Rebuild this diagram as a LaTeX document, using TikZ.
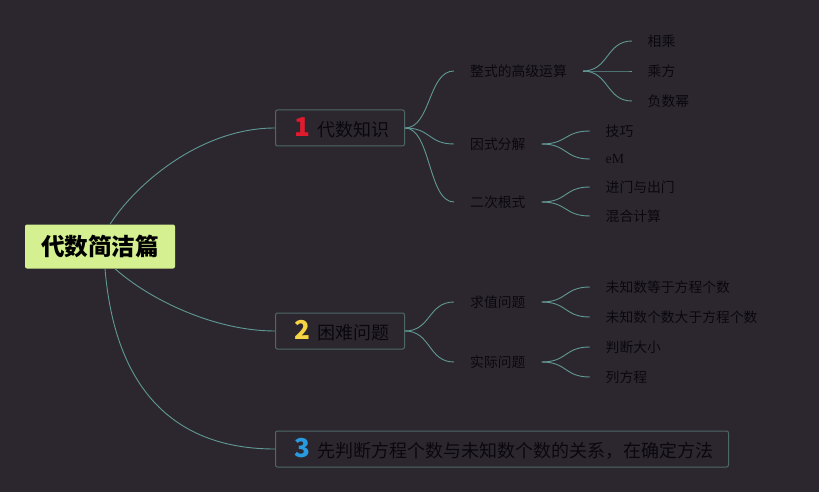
\documentclass[tikz,border=0pt]{standalone}
\usepackage{fontspec}
\setmainfont{Noto Sans CJK SC}
\newfontfamily\serifeM{Liberation Serif}
\definecolor{bgc}{RGB}{44,39,47}
\definecolor{linec}{RGB}{95,153,148}
\definecolor{boxline}{RGB}{78,104,104}
\definecolor{rootfill}{RGB}{212,240,145}
\definecolor{txt}{RGB}{10,8,12}
\definecolor{numred}{RGB}{225,26,46}
\definecolor{numyellow}{RGB}{246,212,66}
\definecolor{numblue}{RGB}{40,155,224}
\tikzset{
  conn/.style={draw=linec, line width=0.9pt},
  rootbox/.style={fill=rootfill, rounded corners=2pt, minimum width=150pt, minimum height=44pt, inner sep=0pt, text=black, font=\fontsize{23.6}{24}\selectfont\bfseries},
  mainbox/.style={draw=boxline, line width=1pt, fill=bgc, rounded corners=2pt, minimum height=36pt, inner xsep=0pt, inner ysep=0pt, align=left, anchor=west, text=txt, font=\fontsize{18}{20}\selectfont},
  sub/.style={anchor=west, inner xsep=16pt, inner ysep=2pt, text=txt, font=\fontsize{13.8}{15}\selectfont},
  leaf/.style={anchor=west, inner xsep=15.5pt, inner ysep=2pt, text=txt, font=\fontsize{13.8}{15}\selectfont},
}
\newcommand{\numtag}[2]{\hspace*{19pt}\makebox[16pt][c]{\textcolor{#1}{\fontsize{26}{26}\selectfont\bfseries #2}}\hspace{7pt}}
\begin{document}
\begin{tikzpicture}[x=1pt,y=-1pt]
\fill[bgc] (0,0) rectangle (819,492);
\useasboundingbox (0,0) rectangle (819,492);

\node[rootbox] (root) at (100,246.5) {代数简洁篇};

\node[mainbox, text width=129pt] (n1) at (275,128) {\numtag{numred}{1}代数知识};
\node[mainbox, text width=129pt] (n2) at (275,331) {\numtag{numyellow}{2}困难问题};
\node[mainbox, text width=453pt] (n3) at (275,449) {\numtag{numblue}{3}先判断方程个数与未知数个数的关系，在确定方法};

\draw[conn] ([xshift=10pt]root.north) .. controls (135,185) and (200,128) .. (n1.west);
\draw[conn] ([xshift=15pt]root.south) .. controls (150,300) and (215,331) .. (n2.west);
\draw[conn] ([xshift=5pt]root.south) .. controls (115,390) and (175,449) .. (n3.west);

% level 2 under n1
\node[sub] (a1) at (454,71) {整式的高级运算};
\node[sub] (a2) at (454,144) {因式分解};
\node[sub] (a3) at (454,202) {二次根式};
\foreach \c in {a1,a2,a3}
  \draw[conn] (n1.east) .. controls +(26,0) and +(-26,0) .. (\c.west);

% level 3
\node[leaf] (a11) at (632,41) {相乘};
\node[leaf] (a12) at (632,71) {乘方};
\node[leaf] (a13) at (632,101) {负数幂};
\foreach \c in {a11,a12,a13}
  \draw[conn] (a1.east) .. controls +(26,0) and +(-26,0) .. (\c.west);

\node[leaf] (a21) at (590,131) {技巧};
\node[leaf] (a22) at (590,159) {\serifeM eM};
\foreach \c in {a21,a22}
  \draw[conn] (a2.east) .. controls +(26,0) and +(-26,0) .. (\c.west);

\node[leaf] (a31) at (590,187) {进门与出门};
\node[leaf] (a32) at (590,216) {混合计算};
\foreach \c in {a31,a32}
  \draw[conn] (a3.east) .. controls +(26,0) and +(-26,0) .. (\c.west);

% level 2 under n2
\node[sub] (b1) at (454,302) {求值问题};
\node[sub] (b2) at (454,362) {实际问题};
\foreach \c in {b1,b2}
  \draw[conn] (n2.east) .. controls +(26,0) and +(-26,0) .. (\c.west);

\node[leaf] (b11) at (590,287) {未知数等于方程个数};
\node[leaf] (b12) at (590,317) {未知数个数大于方程个数};
\foreach \c in {b11,b12}
  \draw[conn] (b1.east) .. controls +(26,0) and +(-26,0) .. (\c.west);

\node[leaf] (b21) at (590,347) {判断大小};
\node[leaf] (b22) at (590,377) {列方程};
\foreach \c in {b21,b22}
  \draw[conn] (b2.east) .. controls +(26,0) and +(-26,0) .. (\c.west);
\end{tikzpicture}
\end{document}
